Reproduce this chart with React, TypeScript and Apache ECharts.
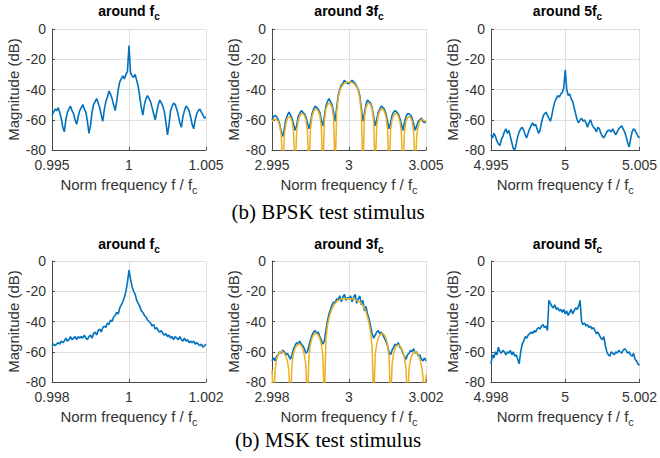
import React, { useEffect, useRef } from "react";
import * as echarts from "echarts";

// ---------- data (dB values sampled on a uniform frequency grid, 101 points per panel) ----------
const panelTitles = ["around f", "around 3f", "around 5f", "around f", "around 3f", "around 5f"];
const xMins = [0.995, 2.995, 4.995, 0.998, 2.998, 4.998];
const xMaxs = [1.005, 3.005, 5.005, 1.002, 3.002, 5.002];
const xIntervals = [0.005, 0.005, 0.005, 0.002, 0.002, 0.002];
const yTicks = [-80, -60, -40, -20, 0];
const captions = ["(b) BPSK test stimulus", "(b) MSK test stimulus"];

const bpskFc = [
  -57, -55, -53, -54, -52, -55, -59, -65, -68, -60,
  -55, -53, -51, -54, -56, -60, -63, -58, -54, -52,
  -50, -53, -55, -61, -69, -64, -55, -50, -48, -46,
  -49, -52, -57, -61, -53, -48, -45, -41, -43, -46,
  -50, -54, -48, -40, -35, -33, -31, -33, -30, -28,
  -11, -29, -31, -32, -30, -34, -38, -45, -52, -57,
  -50, -46, -44, -46, -48, -52, -56, -60, -55, -50,
  -47, -49, -51, -55, -62, -70, -63, -54, -51, -49,
  -50, -53, -57, -62, -65, -58, -54, -51, -52, -54,
  -58, -63, -66, -60, -56, -54, -53, -55, -57, -59,
  -58,
];

const bpsk3Meas = [
  -60, -58, -57, -58, -60, -63, -68, -71, -66, -60,
  -57, -55, -57, -59, -63, -67, -64, -58, -56, -54,
  -55, -56, -58, -62, -66, -62, -56, -53, -51, -52,
  -53, -55, -60, -64, -58, -51, -48, -46, -48, -50,
  -55, -61, -52, -44, -40, -37, -36, -34, -35, -36,
  -36, -35, -34, -35, -36, -38, -40, -44, -52, -61,
  -56, -50, -47, -48, -49, -52, -58, -64, -60, -55,
  -53, -51, -52, -53, -56, -61, -66, -62, -57, -55,
  -54, -55, -56, -59, -63, -67, -62, -58, -56, -56,
  -57, -59, -63, -67, -64, -61, -60, -59, -61, -62,
  -61,
];

const bpsk3Theory = [
  -61, -60, -59.5, -60, -61, -64, -70, -95, -70, -63,
  -59, -58, -58.5, -61, -68, -95, -68, -61, -57.5, -56,
  -56, -57, -60, -67, -95, -66, -58, -54.5, -53, -53,
  -54, -57, -64, -95, -61, -53, -50, -49, -49.5, -52,
  -59, -95, -55, -46, -41, -38.5, -37, -36, -35.5, -35,
  -35, -35, -35.5, -36, -37, -38.5, -41, -46, -55, -95,
  -59, -52, -49.5, -49, -50, -53, -61, -95, -64, -57,
  -54, -53, -53, -54.5, -58, -66, -95, -67, -60, -57,
  -56, -56, -57.5, -61, -68, -95, -68, -61, -58.5, -58,
  -58.5, -61, -68, -95, -70, -64, -61, -60, -60, -60.5,
  -61,
];

const bpsk5 = [
  -70, -72, -69, -71, -74, -76, -77, -73, -71, -68,
  -66, -69, -67, -71, -75, -79, -80, -76, -71, -68,
  -66, -65, -67, -70, -72, -69, -66, -64, -62, -64,
  -63, -66, -69, -67, -62, -58, -56, -55, -57, -59,
  -61, -57, -52, -48, -46, -44, -45, -43, -42, -39,
  -27, -40, -44, -43, -46, -48, -52, -56, -60, -62,
  -60, -59, -61, -60, -62, -65, -62, -60, -63, -65,
  -66, -68, -65, -66, -69, -71, -72, -70, -68, -67,
  -67, -68, -66, -68, -70, -68, -66, -65, -64, -66,
  -68, -71, -75, -78, -73, -68, -66, -67, -69, -71,
  -72,
];

const mskFc = [
  -56, -55, -56, -55, -54, -55, -53, -54, -53, -51,
  -53, -52, -50, -52, -51, -50, -52, -50, -51, -50,
  -51, -49, -51, -52, -50, -49, -51, -48, -47, -49,
  -46, -45, -47, -44, -43, -44, -41, -42, -39, -40,
  -37, -36, -34, -35, -31, -29, -27, -24, -20, -14,
  -6, -12, -17, -20, -22, -26, -28, -30, -33, -34,
  -36, -37, -39, -40, -41, -43, -42, -45, -44, -46,
  -47, -46, -48, -49, -48, -50, -49, -51, -50, -52,
  -50, -51, -52, -50, -52, -53, -51, -53, -52, -54,
  -53, -54, -53, -55, -54, -55, -56, -55, -57, -56,
  -55,
];

const msk3Meas = [
  -66, -64, -66, -63, -62, -60, -61, -59, -60, -62,
  -61, -63, -65, -62, -58, -56, -54, -55, -53, -55,
  -56, -58, -61, -60, -56, -52, -49, -47, -46, -48,
  -47, -50, -52, -55, -53, -46, -40, -35, -32, -29,
  -27, -28, -25, -26, -23, -27, -24, -22, -26, -24,
  -25, -23, -27, -24, -22, -28, -25, -23, -29, -26,
  -33, -30, -35, -38, -43, -48, -51, -49, -47, -46,
  -48, -47, -49, -51, -53, -56, -60, -62, -59, -57,
  -55, -56, -54, -57, -58, -61, -63, -65, -62, -61,
  -59, -60, -58, -61, -60, -63, -62, -65, -66, -64,
  -66,
];

const msk3Theory = [
  -72, -95, -72, -65, -62, -60.5, -60, -60, -61, -63,
  -66, -73, -95, -68, -61, -57.5, -56, -55, -55, -56,
  -58, -62, -69, -95, -63, -55, -51, -49, -48, -48,
  -49, -51, -55, -62, -95, -52, -43, -38, -34, -31.5,
  -29.5, -28, -27, -26, -25.5, -25, -25, -25, -25, -25,
  -25, -25, -25, -25, -25.5, -26, -26.5, -27, -28, -29.5,
  -31, -33.5, -37, -41, -47, -57, -95, -62, -55, -51,
  -49, -48, -48, -49, -51, -55, -63, -95, -68, -61,
  -57.5, -56, -55.5, -56, -57.5, -60, -64, -71, -95, -71,
  -65, -62, -60.5, -60, -60.5, -62, -65, -69, -76, -95,
  -75,
];

const msk5 = [
  -68, -62, -64, -60, -62, -57, -60, -61, -59, -60,
  -62, -60, -61, -59, -62, -60, -63, -62, -65, -68,
  -60, -55, -53, -50, -51, -49, -48, -47, -48, -46,
  -47, -45, -44, -45, -43, -42, -44, -43, -46, -26,
  -28, -30, -31, -29, -32, -31, -33, -32, -34, -32,
  -35, -33, -36, -34, -32, -35, -33, -31, -32, -30,
  -26, -40, -42, -41, -43, -42, -44, -43, -45, -44,
  -46, -48, -47, -49, -51, -52, -50, -56, -60, -62,
  -63, -60, -61, -62, -60, -61, -59, -60, -61, -59,
  -58, -59, -61, -60, -62, -63, -61, -65, -66, -68,
  -69,
];

const measured = [bpskFc, bpsk3Meas, bpsk5, mskFc, msk3Meas, msk5];
const theory: (number[] | null)[] = [null, bpsk3Theory, null, null, msk3Theory, null];

// ---------- layout ----------
const gridLefts = [52, 272, 491];
const gridWidths = [154, 154, 153];
const gridTops = [29, 261];
const gridHeight = 121;
const titleY = [1, 234];
const captionY = [212, 440];

const SANS = "'Liberation Sans', Arial, Helvetica, sans-serif";
const SERIF = "'Liberation Serif', 'Times New Roman', serif";
const BLUE = "#0072BD";
const ORANGE = "#EDB120";
const AXIS = "#4a4a4a";
const GRID = "#dfdfdf";
const LABEL = "#333333";

function toPoints(vals: number[], k: number) {
  const n = vals.length - 1;
  const step = (xMaxs[k] - xMins[k]) / n;
  return vals.map((v, i) => [xMins[k] + i * step, v]);
}

export default function App() {
  const ref = useRef<HTMLDivElement>(null);

  useEffect(() => {
    if (!ref.current) return;
    const chart = echarts.init(ref.current, undefined, { renderer: "svg" });

    const grids: any[] = [];
    const xAxes: any[] = [];
    const yAxes: any[] = [];
    const titles: any[] = [];
    const series: any[] = [];

    for (let k = 0; k < 6; k++) {
      const row = Math.floor(k / 3);
      const col = k % 3;
      const left = gridLefts[col];
      const width = gridWidths[col];
      const top = gridTops[row];
      grids.push({ left, top, width, height: gridHeight, containLabel: false });

      xAxes.push({
        type: "value",
        gridIndex: k,
        min: xMins[k],
        max: xMaxs[k],
        interval: xIntervals[k],
        name: "{a|Norm frequency f / f}{s|c}",
        nameLocation: "middle",
        nameGap: 24,
        nameTextStyle: {
          rich: {
            a: { fontSize: 15, fontFamily: SANS, color: LABEL },
            s: { fontSize: 11, fontFamily: SANS, color: LABEL, padding: [10, 0, 0, 0] },
          },
        },
        axisLine: { show: true, onZero: false, lineStyle: { color: AXIS, width: 1 } },
        axisTick: { show: true, inside: true, length: 3, lineStyle: { color: AXIS } },
        axisLabel: {
          show: true,
          margin: 8,
          fontSize: 14,
          fontFamily: SANS,
          color: LABEL,
          showMinLabel: true,
          showMaxLabel: true,
          formatter: (v: number) => String(+v.toFixed(3)),
        },
        splitLine: { show: true, lineStyle: { color: GRID, width: 1 } },
      });

      yAxes.push({
        type: "value",
        gridIndex: k,
        min: yTicks[0],
        max: yTicks[yTicks.length - 1],
        interval: 20,
        name: "Magnitude (dB)",
        nameLocation: "middle",
        nameRotate: 90,
        nameGap: 31,
        nameTextStyle: { fontSize: 15, fontFamily: SANS, color: LABEL },
        axisLine: { show: true, onZero: false, lineStyle: { color: AXIS, width: 1 } },
        axisTick: { show: true, inside: true, length: 3, lineStyle: { color: AXIS } },
        axisLabel: { margin: 6, fontSize: 14, fontFamily: SANS, color: LABEL, lineHeight: 14 },
        splitLine: { show: true, lineStyle: { color: GRID, width: 1 } },
      });

      titles.push({
        text: `{a|${panelTitles[k]}}{s|c}`,
        left: left + width / 2,
        top: titleY[row],
        textAlign: "center",
        padding: 0,
        textStyle: {
          rich: {
            a: { fontSize: 14, fontWeight: "bold", fontFamily: SANS, color: "#000" },
            s: { fontSize: 10, fontWeight: "bold", fontFamily: SANS, color: "#000", padding: [10, 0, 0, 0] },
          },
        },
      });

      series.push({
        type: "line",
        xAxisIndex: k,
        yAxisIndex: k,
        data: toPoints(measured[k], k),
        showSymbol: false,
        symbol: "none",
        clip: true,
        lineStyle: { color: BLUE, width: 1.6 },
        itemStyle: { color: BLUE },
        z: 2,
      });
      const th = theory[k];
      if (th) {
        series.push({
          type: "line",
          xAxisIndex: k,
          yAxisIndex: k,
          data: toPoints(th, k),
          showSymbol: false,
          symbol: "none",
          clip: true,
          lineStyle: { color: ORANGE, width: 1.5 },
          itemStyle: { color: ORANGE },
          z: 3,
        });
      }
    }

    chart.setOption({
      animation: false,
      backgroundColor: "#ffffff",
      title: titles,
      grid: grids,
      xAxis: xAxes,
      yAxis: yAxes,
      series,
      graphic: captions.map((c, r) => ({
        type: "text",
        x: 328,
        y: captionY[r],
        style: {
          text: c,
          fontSize: 21,
          fontFamily: SERIF,
          fill: "#000",
          align: "center",
          verticalAlign: "middle",
        },
      })),
    });

    return () => chart.dispose();
  }, []);

  return (
    <div
      ref={ref}
      style={{ position: "fixed", left: 0, top: 0, width: 660, height: 458, background: "#fff" }}
    />
  );
}
